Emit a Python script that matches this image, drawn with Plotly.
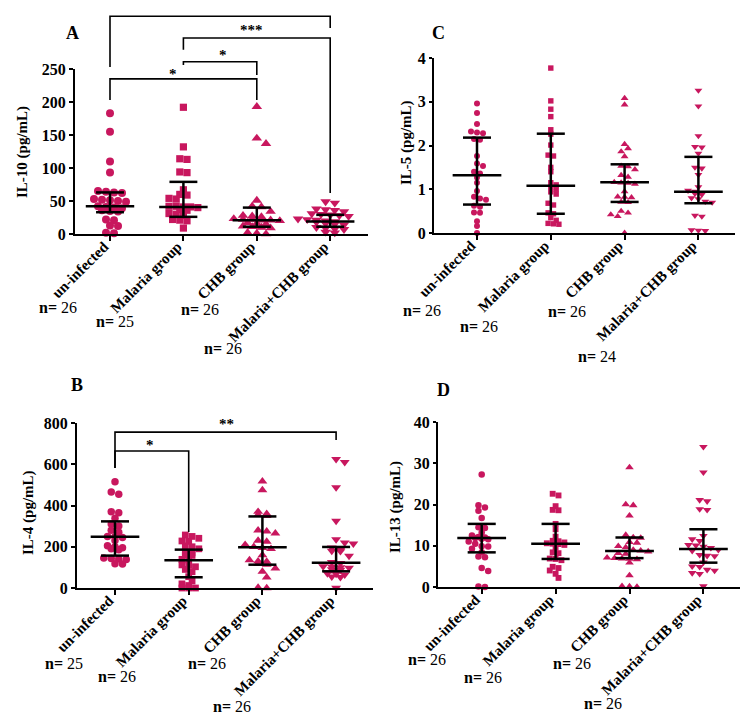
import numpy as np
import plotly.graph_objects as go

W, H = 749, 717
OFF = 8               # default page margin of the html body
FW, FH = W - OFF, H - OFF

groups = ["un-infected", "Malaria group", "CHB group", "Malaria+CHB group"]
symbols = ["circle", "square", "triangle-up", "triangle-down"]
point_color = "#C8175E"
serif = "Liberation Serif"

# ---------------- Panel A : IL-10 ----------------
il10_uninfected = [183, 155, 110, 93, 65, 64, 63, 62, 53, 52, 51, 50, 49, 42, 41, 40, 39, 36, 35, 34, 22, 21, 13, 12, 2, 1]
il10_malaria = [192, 132, 114, 113, 94, 93, 67, 60, 59, 54, 53, 42, 42, 41, 41, 40, 37, 36, 31, 30, 28, 22, 21, 20, 9]
il10_chb = [193, 145, 137, 51, 42, 41, 34, 28, 27, 26, 23, 22, 22, 21, 21, 20, 17, 16, 15, 12, 11, 10, 9, 2, 1, 0]
il10_malaria_chb = [49, 47, 38, 37, 36, 31, 30, 29, 28, 23, 22, 21, 20, 19, 18, 16, 15, 14, 10, 9, 8, 7, 3, 2, 27, 34]
il10_median = [42, 41, 21, 19]
il10_q1 = [33, 26, 11, 11]
il10_q3 = [63, 79, 40, 29]
il10_n = [26, 25, 26, 26]

# ---------------- Panel C : IL-5 ----------------
il5_uninfected = [2.96, 2.74, 2.49, 2.32, 2.30, 2.28, 2.15, 2.13, 1.76, 1.59, 1.53, 1.40, 1.36, 1.27, 1.15, 0.96, 0.83, 0.79, 0.76, 0.62, 0.60, 0.47, 0.46, 0.27, 0.16, 0.0]
il5_malaria = [3.77, 3.02, 2.83, 2.66, 2.36, 2.26, 2.01, 1.78, 1.76, 1.50, 1.40, 1.15, 1.10, 1.05, 1.0, 0.94, 0.89, 0.68, 0.64, 0.46, 0.44, 0.35, 0.29, 0.22, 0.21, 0.20]
il5_chb = [3.08, 2.93, 2.03, 1.93, 1.86, 1.75, 1.53, 1.52, 1.45, 1.32, 1.28, 1.16, 1.15, 1.14, 1.12, 0.95, 0.83, 0.82, 0.81, 0.71, 0.70, 0.50, 0.46, 0.42, 0.38, 0.0]
il5_malaria_chb = [3.26, 2.90, 2.22, 1.97, 1.96, 1.82, 1.50, 1.48, 1.33, 1.05, 0.97, 0.95, 0.92, 0.90, 0.88, 0.80, 0.78, 0.72, 0.70, 0.40, 0.38, 0.07, 0.06, 0.05]
il5_median = [1.32, 1.08, 1.16, 0.94]
il5_q1 = [0.65, 0.44, 0.71, 0.68]
il5_q3 = [2.18, 2.27, 1.57, 1.74]
il5_n = [26, 26, 26, 24]

# ---------------- Panel B : IL-4 ----------------
il4_uninfected = [515, 466, 455, 370, 365, 338, 310, 300, 280, 270, 250, 248, 245, 230, 205, 200, 195, 190, 185, 145, 143, 140, 138, 118, 116]
il4_malaria = [257, 250, 241, 228, 226, 204, 200, 190, 176, 170, 160, 158, 139, 136, 112, 110, 103, 90, 79, 55, 34, 20, 12, 0, 0, 0]
il4_chb = [517, 475, 370, 360, 355, 350, 280, 275, 265, 230, 225, 210, 200, 195, 190, 160, 135, 130, 128, 117, 113, 95, 80, 52, 2, 0]
il4_malaria_chb = [625, 610, 488, 325, 235, 220, 215, 195, 185, 180, 178, 155, 125, 120, 105, 103, 100, 98, 90, 88, 70, 68, 65, 55, 52, 0]
il4_median = [248, 135, 197, 123]
il4_q1 = [157, 52, 113, 81]
il4_q3 = [323, 186, 347, 199]
il4_n = [25, 26, 26, 26]

# ---------------- Panel D : IL-13 ----------------
il13_uninfected = [27.3, 19.8, 19.3, 18.5, 16.7, 14.5, 14.3, 13.2, 12.5, 12.1, 12.0, 11.9, 11.7, 11.6, 11.0, 10.5, 9.9, 9.8, 9.3, 8.4, 7.4, 7.2, 4.6, 3.9, 0.1, 0.0]
il13_malaria = [22.6, 22.2, 19.6, 18.7, 18.6, 15.3, 14.0, 12.2, 11.2, 11.1, 10.8, 10.6, 10.5, 10.4, 10.2, 9.5, 8.4, 8.2, 6.9, 6.8, 6.5, 4.9, 4.6, 4.0, 3.2, 2.2]
il13_chb = [29.0, 20.0, 19.8, 17.3, 12.6, 12.0, 11.9, 10.9, 10.7, 9.9, 9.6, 9.0, 8.8, 8.6, 8.2, 8.0, 7.1, 7.0, 6.9, 6.8, 6.7, 5.9, 2.8, 0.2, 0.1, 0.0]
il13_malaria_chb = [34.0, 27.8, 21.1, 20.8, 18.9, 18.7, 12.4, 11.6, 11.2, 10.2, 10.1, 9.8, 9.5, 9.0, 8.8, 7.8, 7.6, 7.5, 6.0, 5.0, 4.9, 4.2, 4.0, 3.4, 3.2, 0.2]
il13_median = [11.9, 10.5, 8.7, 9.2]
il13_q1 = [8.4, 6.8, 7.0, 5.9]
il13_q3 = [15.3, 15.3, 12.0, 14.0]
il13_n = [26, 26, 26, 26]

# ---------------- significance brackets ----------------
sigA_pairs = [(0, 3), (1, 3), (1, 2), (0, 2)]
sigA_labels = ["***", "***", "*", "*"]
sigA_bar = [330, 297, 261, 235]
sigA_left = [253, 279, 256, 203]
sigA_right = [312, 62, 241, 203]
sigA_label_x = [1.38, 1.93, 1.54, 0.86]
sigA_label_y = [346, 313, 276, 247]

sigB_pairs = [(0, 3), (0, 1)]
sigB_labels = ["**", "*"]
sigB_bar = [756, 664]
sigB_left = [582, 582]
sigB_right = [718, 272]
sigB_label_x = [1.51, 0.47]
sigB_label_y = [812, 710]

# ---------------- layout geometry (reference pixels) ----------------
panels = [
    dict(key="A", data=[il10_uninfected, il10_malaria, il10_chb, il10_malaria_chb],
         med=il10_median, q1=il10_q1, q3=il10_q3, n=il10_n, title="IL-10 (pg/mL)",
         x0=75, x1=368, c0=110, dc=73.4, ybot=234, ytop=69, ymax=250, dtick=50, msize=8,
         title_xy=(22, 152), letter_xy=(72, 33),
         n_xy=[(58, 307), (115, 321), (200, 309), (223, 349)]),
    dict(key="C", data=[il5_uninfected, il5_malaria, il5_chb, il5_malaria_chb],
         med=il5_median, q1=il5_q1, q3=il5_q3, n=il5_n, title="IL-5 (pg/mL)",
         x0=434, x1=735, c0=477, dc=73.8, ybot=233, ytop=58, ymax=4, dtick=1, msize=6,
         title_xy=(406, 143), letter_xy=(438, 33),
         n_xy=[(422, 310), (479, 326), (567, 311), (597, 356)]),
    dict(key="B", data=[il4_uninfected, il4_malaria, il4_chb, il4_malaria_chb],
         med=il4_median, q1=il4_q1, q3=il4_q3, n=il4_n, title="IL-4 (pg/mL)",
         x0=77, x1=373, c0=115, dc=73.7, ybot=588, ytop=423, ymax=800, dtick=200, msize=7.5,
         title_xy=(28, 513), letter_xy=(77, 385),
         n_xy=[(64, 663), (117, 676), (207, 663), (232, 706)]),
    dict(key="D", data=[il13_uninfected, il13_malaria, il13_chb, il13_malaria_chb],
         med=il13_median, q1=il13_q1, q3=il13_q3, n=il13_n, title="IL-13 (pg/mL)",
         x0=438, x1=740, c0=481.7, dc=73.9, ybot=587, ytop=422, ymax=40, dtick=10, msize=6.5,
         title_xy=(395, 507), letter_xy=(443, 390),
         n_xy=[(427, 659), (483, 677), (572, 663), (603, 703)]),
]


def px_x(px):
    return (px - OFF) / FW


def px_y(py):
    return 1 - (py - OFF) / FH


def swarm(values, ppu, dc, diam):
    """Row-based dot-plot layout: cluster close values into rows, centre rows, avoid collisions."""
    vals = np.asarray(values, float)
    order = np.argsort(-vals, kind="stable")
    rows, cur = [], []
    for k in order:
        if cur and (vals[cur[0]] - vals[k]) * ppu > 0.35 * diam:
            rows.append(cur)
            cur = []
        cur.append(k)
    if cur:
        rows.append(cur)
    sp = diam * 1.0
    placed = []
    offs = np.zeros(len(vals))
    for row in rows:
        m = len(row)
        base = [(j - (m - 1) / 2) * sp for j in range(m)]
        chosen = 0.0
        for shift in [0.0, sp / 2, -sp / 2, sp, -sp, 1.5 * sp, -1.5 * sp]:
            ok = True
            for j, k in enumerate(row):
                xk, yk = base[j] + shift, vals[k] * ppu
                for (xp, yp) in placed:
                    if (xk - xp) ** 2 + (yk - yp) ** 2 < (0.78 * diam) ** 2:
                        ok = False
                        break
                if not ok:
                    break
            if ok:
                chosen = shift
                break
        for j, k in enumerate(row):
            xk = base[j] + chosen
            offs[k] = xk / dc
            placed.append((xk, vals[k] * ppu))
    return offs


fig = go.Figure()
layout = dict(
    width=FW, height=FH, margin=dict(l=0, r=0, t=0, b=0),
    paper_bgcolor="white", plot_bgcolor="rgba(0,0,0,0)", showlegend=False,
)
annotations = []
size_factor = [1.0, 0.9, 1.15, 1.15]

for p_i, p in enumerate(panels):
    ax = "" if p_i == 0 else str(p_i + 1)
    xa, ya = "x" + ax, "y" + ax
    xr = [(p["x0"] - p["c0"]) / p["dc"], (p["x1"] - p["c0"]) / p["dc"]]
    ppu = (p["ybot"] - p["ytop"]) / p["ymax"]
    yt = list(np.arange(0, p["ymax"] + p["dtick"] / 2, p["dtick"]))
    layout["xaxis" + ax] = dict(
        domain=[px_x(p["x0"]), px_x(p["x1"])], range=xr, anchor=ya,
        tickvals=[0, 1, 2, 3], ticktext=groups, tickangle=-45,
        ticks="outside", ticklen=5, tickwidth=2, tickcolor="black",
        ticklabelstandoff=-9, ticklabelshift=-6,
        showline=True, linewidth=2, linecolor="black", showgrid=False, zeroline=False,
        tickfont=dict(family=serif, size=15, color="black", weight="bold"),
        automargin=False, fixedrange=True,
    )
    layout["yaxis" + ax] = dict(
        domain=[px_y(p["ybot"]), px_y(p["ytop"])], range=[0, p["ymax"]], anchor=xa,
        tickvals=yt, ticktext=[("%g" % v) for v in yt],
        ticks="outside", ticklen=4 if p_i in (0, 2) else 3, tickwidth=2, tickcolor="black",
        showline=True, linewidth=2, linecolor="black", showgrid=False, zeroline=False,
        tickfont=dict(family=serif, size=16, color="black", weight="bold"),
        automargin=False, fixedrange=True,
    )
    # points
    for g, vals in enumerate(p["data"]):
        offs = swarm(vals, ppu, p["dc"], p["msize"] * size_factor[g])
        fig.add_trace(go.Scatter(
            x=g + offs, y=vals, mode="markers", xaxis=xa, yaxis=ya, cliponaxis=False,
            marker=dict(symbol=symbols[g], size=p["msize"] * size_factor[g], color=point_color,
                        line=dict(width=0)),
            hoverinfo="skip"))
    # median + IQR
    ex, ey = [], []
    for g in range(4):
        ex += [g - 0.33, g + 0.33, None, g, g, None, g - 0.19, g + 0.19, None, g - 0.19, g + 0.19, None]
        ey += [p["med"][g], p["med"][g], None, p["q1"][g], p["q3"][g], None,
               p["q1"][g], p["q1"][g], None, p["q3"][g], p["q3"][g], None]
    fig.add_trace(go.Scatter(x=ex, y=ey, mode="lines", xaxis=xa, yaxis=ya, cliponaxis=False,
                             line=dict(color="black", width=2.5), hoverinfo="skip"))
    # texts
    tx, ty = p["title_xy"]
    annotations.append(dict(text="<b>%s</b>" % p["title"], x=px_x(tx), y=px_y(ty), xref="paper", yref="paper",
                            textangle=-90, showarrow=False, xanchor="center", yanchor="middle",
                            font=dict(family=serif, size=15, color="black")))
    lx, ly = p["letter_xy"]
    annotations.append(dict(text="<b>%s</b>" % p["key"], x=px_x(lx), y=px_y(ly), xref="paper", yref="paper",
                            showarrow=False, xanchor="center", yanchor="middle",
                            font=dict(family=serif, size=18, color="black")))
    for (nx, ny), nv in zip(p["n_xy"], p["n"]):
        annotations.append(dict(text="<b>n=</b> %d" % nv, x=px_x(nx), y=px_y(ny), xref="paper", yref="paper",
                                showarrow=False, xanchor="center", yanchor="middle",
                                font=dict(family=serif, size=16, color="black")))


def bracket_axes(idx, p, top_px, pairs, labels, bar, left, right, lab_x, lab_y):
    ax = str(idx)
    ppu = (p["ybot"] - p["ytop"]) / p["ymax"]
    xr = [(p["x0"] - p["c0"]) / p["dc"], (p["x1"] - p["c0"]) / p["dc"]]
    layout["xaxis" + ax] = dict(domain=[px_x(p["x0"]), px_x(p["x1"])], range=xr, anchor="y" + ax,
                                visible=False, fixedrange=True)
    layout["yaxis" + ax] = dict(domain=[px_y(p["ybot"]), px_y(top_px)],
                                range=[0, (p["ybot"] - top_px) / ppu], anchor="x" + ax,
                                visible=False, fixedrange=True)
    bx, by = [], []
    for (a, b), yb, yl, yr in zip(pairs, bar, left, right):
        bx += [a, a, b, b, None]
        by += [yl, yb, yb, yr, None]
    fig.add_trace(go.Scatter(x=bx, y=by, mode="lines", xaxis="x" + ax, yaxis="y" + ax,
                             line=dict(color="black", width=1.6), hoverinfo="skip", cliponaxis=False))
    for t, x, y in zip(labels, lab_x, lab_y):
        annotations.append(dict(text="<b>%s</b>" % t, x=x, y=y, xref="x" + ax, yref="y" + ax, showarrow=False,
                                xanchor="center", yanchor="middle", yshift=-3,
                                font=dict(family=serif, size=15, color="#000000")))


bracket_axes(5, panels[0], OFF, sigA_pairs, sigA_labels, sigA_bar, sigA_left, sigA_right, sigA_label_x, sigA_label_y)
bracket_axes(6, panels[2], 405, sigB_pairs, sigB_labels, sigB_bar, sigB_left, sigB_right, sigB_label_x, sigB_label_y)

layout["annotations"] = annotations
fig.update_layout(**layout)
fig.write_html("out.html")
